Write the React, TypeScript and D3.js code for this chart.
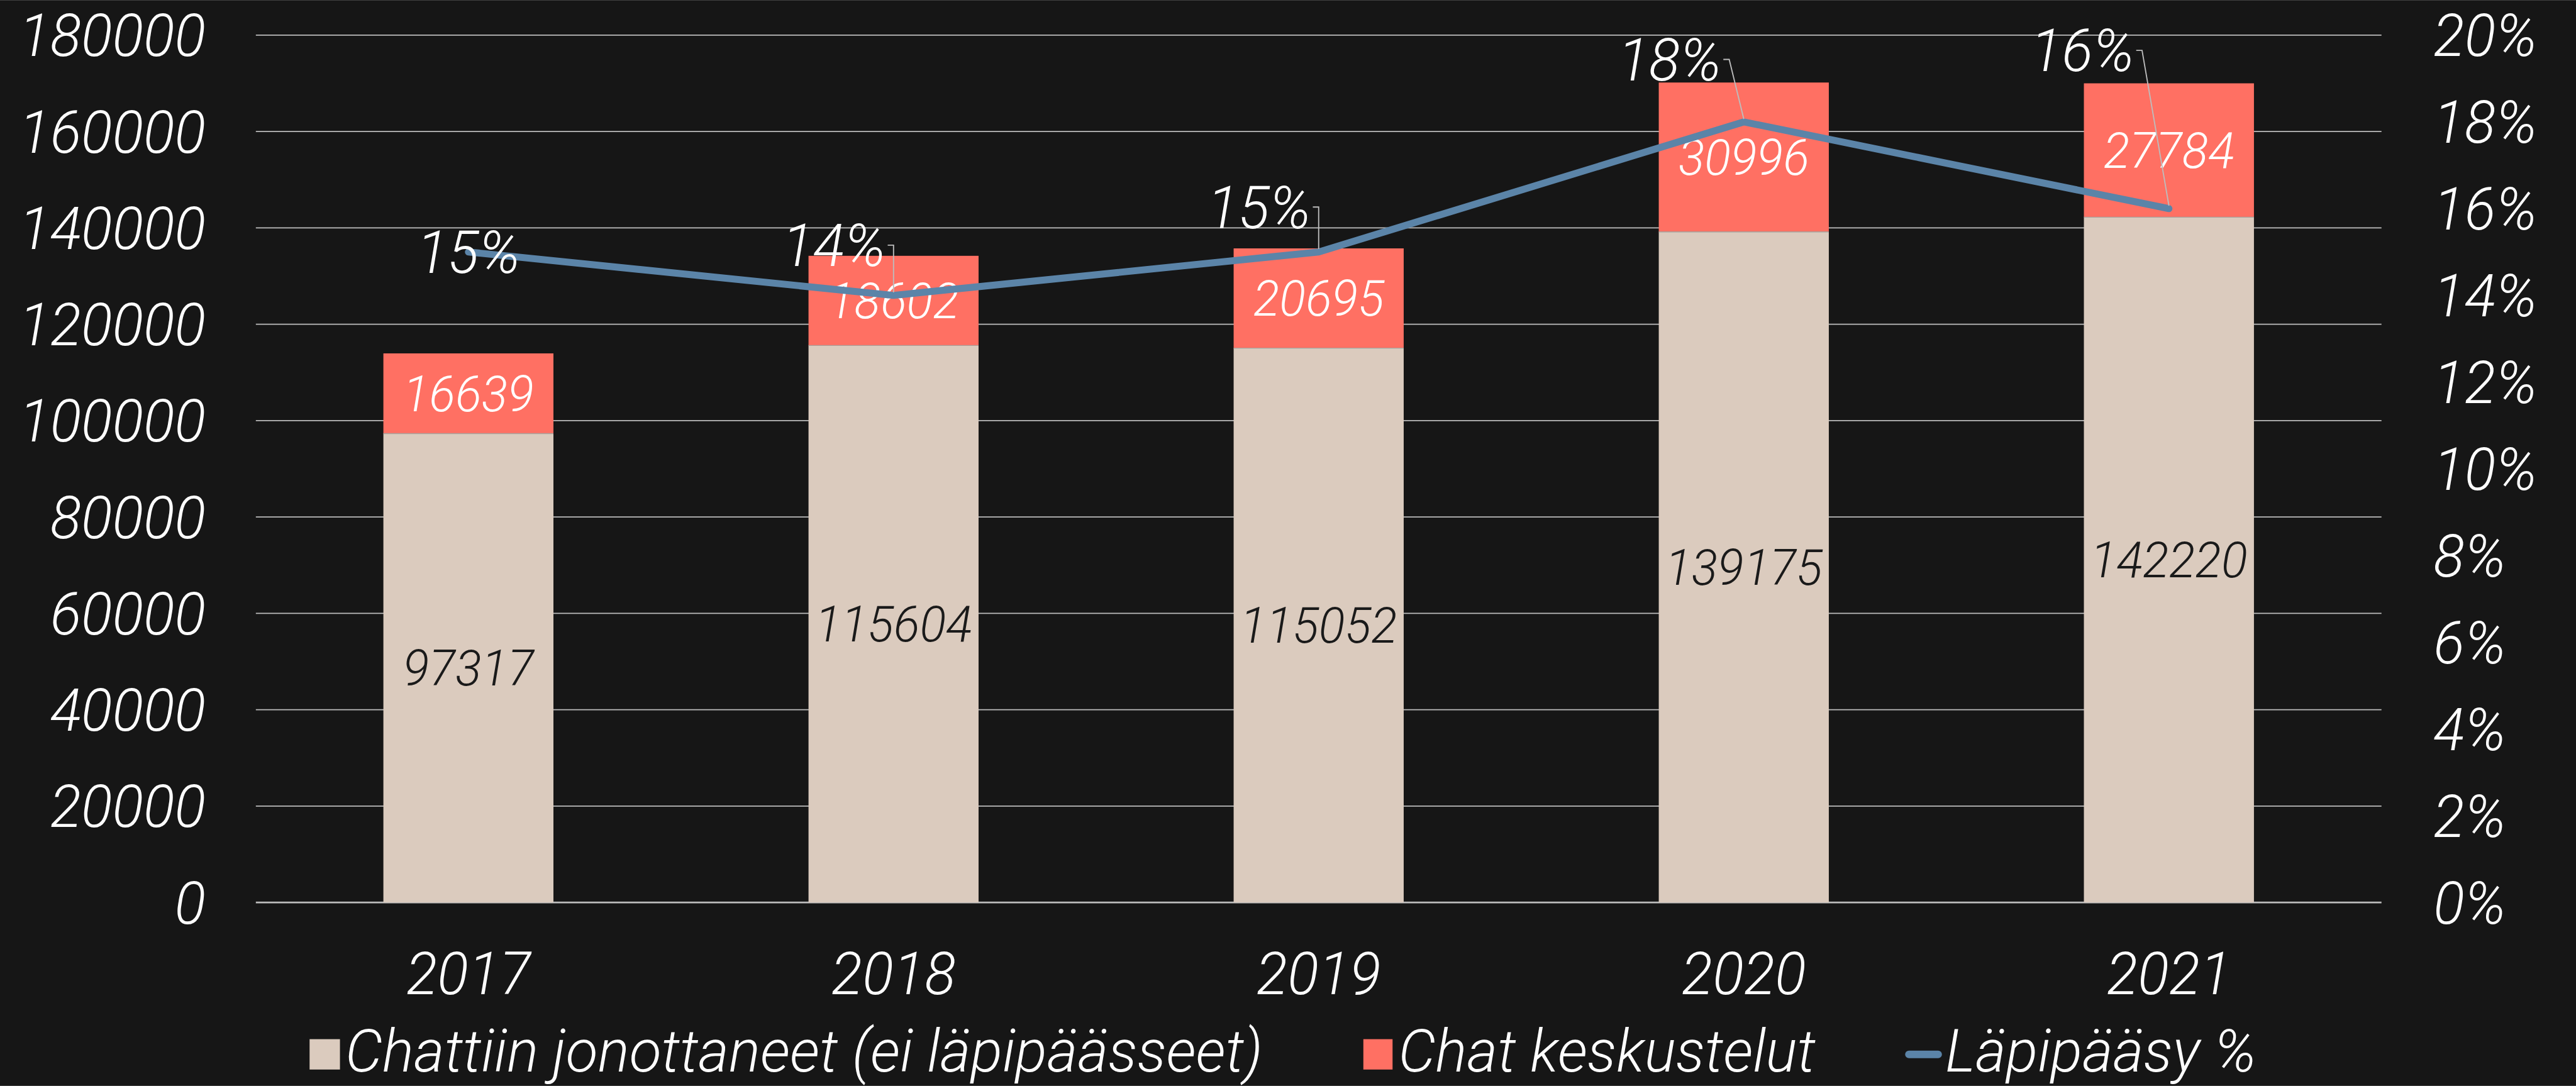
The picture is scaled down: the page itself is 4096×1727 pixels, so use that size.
import React from "react";
import * as d3 from "d3";

const years = ["2017", "2018", "2019", "2020", "2021"];
const queuedNotThrough = [97317, 115604, 115052, 139175, 142220];
const chatConversations = [16639, 18602, 20695, 30996, 27784];
const passRate = [0.15, 0.14, 0.15, 0.18, 0.16];
const passRateLabels = ["15%", "14%", "15%", "18%", "16%"];
const leftTicks = [0, 20000, 40000, 60000, 80000, 100000, 120000, 140000, 160000, 180000];
const rightTicks = [0, 0.02, 0.04, 0.06, 0.08, 0.1, 0.12, 0.14, 0.16, 0.18, 0.2];
const legendLabels = ["Chattiin jonottaneet (ei läpipäässeet)", "Chat keskustelut", "Läpipääsy %"];

// layout (reference pixel space, 4410 x 1859)
const W = 4410;
const H = 1859;
const plotLeft = 438;
const plotRight = 4077;
const plotTop = 60;
const plotBottom = 1545;
// label offsets for percentage labels relative to their point
const pctLabelOffsets: [number, number][] = [
  [0, 0],
  [-102, -86],
  [-102, -77],
  [-127, -107],
  [-148, -271],
];

const BG = "#161616";
const BEIGE = "#DBCBBE";
const CORAL = "#FF7063";
const BLUE = "#5B84A8";
const GRID = "#BDBDBD";
const FONT = "Roboto, 'Open Sans', sans-serif";
const SX_NUM = 0.98;
const SX_TXT = 1.0;
const AXIS_FS = 101;
const DATA_FS = 85;
const CAP = 0.711;

function T(props: {
  x: number;
  y: number;
  anchor?: string;
  size: number;
  fill: string;
  sx?: number;
  children: React.ReactNode;
}) {
  const { x, y, anchor = "middle", size, fill, sx = SX_NUM, children } = props;
  return (
    <text
      transform={`translate(${x},${y}) scale(${sx},1)`}
      textAnchor={anchor as any}
      fontSize={size}
      fontStyle="italic"
      fontWeight={300}
      fill={fill}
      fontFamily={FONT}
    >
      {children}
    </text>
  );
}

export default function App() {
  const x = d3
    .scaleBand<string>()
    .domain(years)
    .range([plotLeft, plotRight])
    .paddingInner(0.6)
    .paddingOuter(0.3);
  const yL = d3.scaleLinear().domain([0, 180000]).range([plotBottom, plotTop]);
  const yR = d3.scaleLinear().domain([0, 0.2]).range([plotBottom, plotTop]);
  const bw = x.bandwidth();
  const cx = (y: string) => (x(y) as number) + bw / 2;

  const line = d3
    .line<number>()
    .x((_, i) => cx(years[i]))
    .y((d) => yR(d));

  const capHalf = (fs: number) => (fs * CAP) / 2;

  return (
    <svg
      width={4096}
      height={1727}
      viewBox={`0 0 ${W} ${H}`}
      style={{ position: "absolute", left: 0, top: 0, display: "block" }}
    >
      <rect x={0} y={0} width={W} height={H} fill={BG} />
      {/* gridlines */}
      {leftTicks.map((t) => (
        <line
          key={"g" + t}
          x1={plotLeft}
          x2={plotRight}
          y1={yL(t)}
          y2={yL(t)}
          stroke={GRID}
          strokeWidth={t === 0 ? 3 : 2}
        />
      ))}
      {/* left tick labels */}
      {leftTicks.map((t) => (
        <T key={"l" + t} x={352} y={yL(t) + capHalf(AXIS_FS)} anchor="end" size={AXIS_FS} fill="#FFFFFF">
          {String(t)}
        </T>
      ))}
      {/* right tick labels */}
      {rightTicks.map((t) => (
        <T key={"r" + t} x={4166} y={yR(t) + capHalf(AXIS_FS)} anchor="start" size={AXIS_FS} fill="#FFFFFF">
          {d3.format(".0%")(t)}
        </T>
      ))}
      {/* bars */}
      {years.map((yr, i) => {
        const x0 = x(yr) as number;
        const q = queuedNotThrough[i];
        const c = chatConversations[i];
        return (
          <g key={"b" + yr}>
            <rect x={x0} y={yL(q)} width={bw} height={yL(0) - yL(q)} fill={BEIGE} />
            <rect x={x0} y={yL(q + c)} width={bw} height={yL(q) - yL(q + c)} fill={CORAL} />
            <line x1={x0} x2={x0 + bw} y1={yL(q)} y2={yL(q)} stroke="#A8A09A" strokeWidth={1.5} />
          </g>
        );
      })}
      {/* bar value labels */}
      {years.map((yr, i) => {
        const q = queuedNotThrough[i];
        const c = chatConversations[i];
        const midQ = (yL(0) + yL(q)) / 2;
        const midC = (yL(q) + yL(q + c)) / 2;
        return (
          <g key={"v" + yr}>
            <T x={cx(yr)} y={midQ + capHalf(DATA_FS)} size={DATA_FS} fill="#1A1A1A">
              {String(q)}
            </T>
            <T x={cx(yr)} y={midC + capHalf(DATA_FS)} size={DATA_FS} fill="#FFFFFF">
              {String(c)}
            </T>
          </g>
        );
      })}
      {/* line */}
      <path
        d={line(passRate) as string}
        fill="none"
        stroke={BLUE}
        strokeWidth={12}
        strokeLinejoin="round"
        strokeLinecap="round"
      />
      {/* percentage labels with leaders */}
      {years.map((yr, i) => {
        const px = cx(yr);
        const py = yR(passRate[i]);
        const [dx, dy] = pctLabelOffsets[i];
        const lx = px + dx;
        const ly = py + dy;
        const halfW = 77;
        const hasLeader = dx !== 0 || dy !== 0;
        return (
          <g key={"p" + yr}>
            {hasLeader && (
              <polyline
                points={`${lx + halfW + 15},${ly} ${lx + halfW + 25},${ly} ${px},${py - 5}`}
                fill="none"
                stroke={GRID}
                strokeWidth={2}
              />
            )}
            <T x={lx} y={ly + capHalf(AXIS_FS)} size={AXIS_FS} fill="#FFFFFF">
              {passRateLabels[i]}
            </T>
          </g>
        );
      })}
      {/* category labels */}
      {years.map((yr) => (
        <T key={"c" + yr} x={cx(yr)} y={1702} size={AXIS_FS} fill="#FFFFFF">
          {yr}
        </T>
      ))}
      {/* legend */}
      <rect x={530} y={1779} width={52} height={52} fill={BEIGE} />
      <T x={591} y={1834} anchor="start" size={AXIS_FS} fill="#FFFFFF" sx={SX_TXT}>
        {legendLabels[0]}
      </T>
      <rect x={2334} y={1779} width={50} height={52} fill={CORAL} />
      <T x={2394} y={1834} anchor="start" size={AXIS_FS} fill="#FFFFFF" sx={SX_TXT}>
        {legendLabels[1]}
      </T>
      <line x1={3268} x2={3318} y1={1805} y2={1805} stroke={BLUE} strokeWidth={13} strokeLinecap="round" />
      <T x={3330} y={1834} anchor="start" size={AXIS_FS} fill="#FFFFFF" sx={SX_TXT}>
        {legendLabels[2]}
      </T>
    </svg>
  );
}
